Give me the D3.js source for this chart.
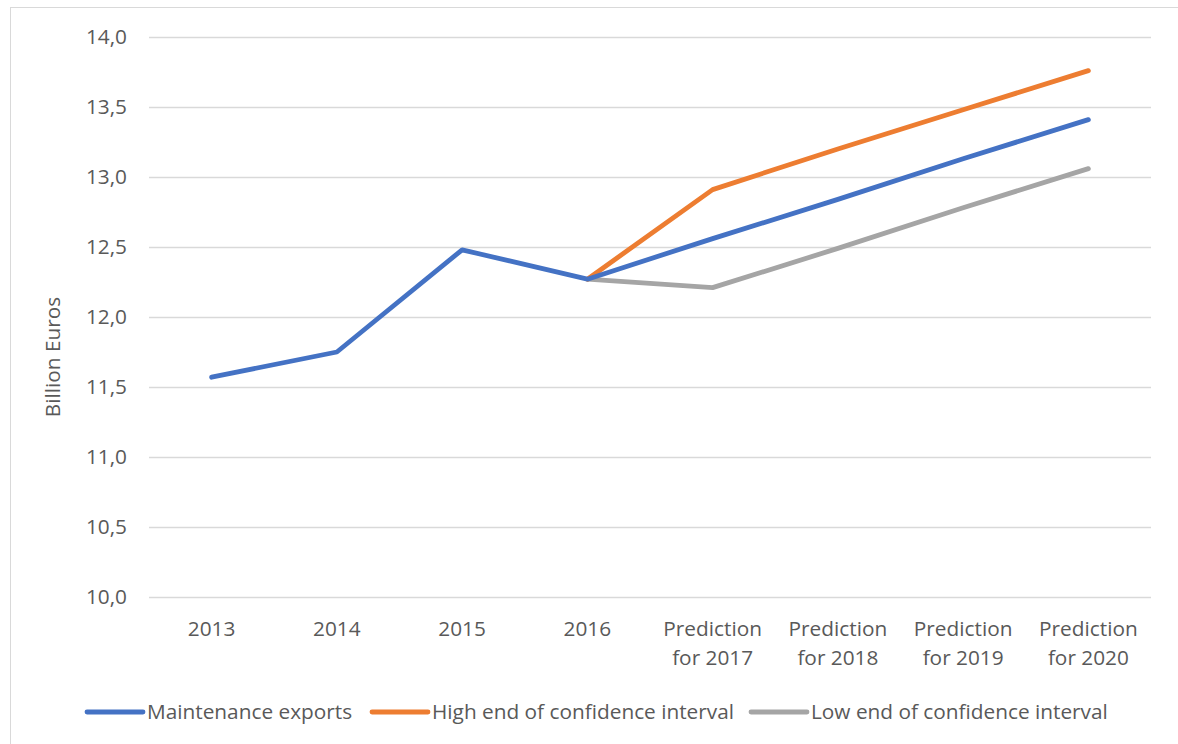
<!DOCTYPE html>
<html lang="en">
<head>
<meta charset="UTF-8">
<title>Maintenance exports</title>
<script src="https://cdn.jsdelivr.net/npm/d3@7"></script>
<style>
  body { margin: 0; background: #fff; }
  text { font-family: "Open Sans", Lato, sans-serif; fill: #595959; }
</style>
</head>
<body>
<script>
// categories and series (billion euros)
var categories = ["2013", "2014", "2015", "2016",
  "Prediction for 2017", "Prediction for 2018", "Prediction for 2019", "Prediction for 2020"];
var maintenance = [11.57, 11.75, 12.48, 12.27, 12.56, 12.84, 13.13, 13.41];
var highEnd = [null, null, null, 12.27, 12.91, 13.20, 13.48, 13.76];
var lowEnd = [null, null, null, 12.27, 12.21, 12.49, 12.78, 13.06];
var yTicks = [10, 10.5, 11, 11.5, 12, 12.5, 13, 13.5, 14];

var series = [
  {name: "Low end of confidence interval", values: lowEnd, color: "#A5A5A5"},
  {name: "High end of confidence interval", values: highEnd, color: "#ED7D31"},
  {name: "Maintenance exports", values: maintenance, color: "#4472C4"}
];
var legendOrder = [series[2], series[1], series[0]];

var width = 1178, height = 744;
var plotLeft = 149, plotRight = 1151, plotTop = 37, plotBottom = 597;
var fontSize = "20.8px";

var svg = d3.select("body").append("svg")
  .attr("width", width)
  .attr("height", height);

// chart border (top + left visible)
svg.append("rect")
  .attr("x", 10.5).attr("y", 7.5)
  .attr("width", width).attr("height", height)
  .attr("fill", "none")
  .attr("stroke", "#D9D9D9");

var x = d3.scaleBand().domain(categories).range([plotLeft, plotRight]);
var y = d3.scaleLinear().domain([10, 14]).range([plotBottom, plotTop]);

// gridlines
svg.append("g").selectAll("line")
  .data(yTicks)
  .join("line")
  .attr("x1", plotLeft).attr("x2", plotRight)
  .attr("y1", d => Math.round(y(d)) + 0.5)
  .attr("y2", d => Math.round(y(d)) + 0.5)
  .attr("stroke", "#D9D9D9")
  .attr("stroke-width", 1.3);

// y tick labels
svg.append("g").selectAll("text")
  .data(yTicks)
  .join("text")
  .attr("x", 127)
  .attr("y", d => y(d))
  .attr("dy", "0.35em")
  .attr("text-anchor", "end")
  .style("font-size", fontSize)
  .text(d => d3.format(".1f")(d).replace(".", ","));

// y axis title
svg.append("text")
  .attr("transform", "translate(60,357) rotate(-90)")
  .attr("text-anchor", "middle")
  .style("font-size", fontSize)
  .text("Billion Euros");

// x labels, wrapped on two lines for the predictions
var xl = svg.append("g").selectAll("text")
  .data(categories)
  .join("text")
  .attr("x", d => x(d) + x.bandwidth() / 2)
  .attr("y", 636)
  .attr("text-anchor", "middle")
  .style("font-size", fontSize);

xl.each(function(d) {
  var parts = d.startsWith("Prediction") ? ["Prediction", d.replace("Prediction ", "")] : [d];
  d3.select(this).selectAll("tspan")
    .data(parts)
    .join("tspan")
    .attr("x", x(d) + x.bandwidth() / 2)
    .attr("dy", (p, i) => i === 0 ? 0 : 29)
    .text(p => p);
});

// lines
var line = d3.line()
  .defined(d => d.v != null)
  .x(d => x(d.c) + x.bandwidth() / 2)
  .y(d => y(d.v));

svg.append("g").selectAll("path")
  .data(series)
  .join("path")
  .attr("d", s => line(s.values.map((v, i) => ({c: categories[i], v: v}))))
  .attr("fill", "none")
  .attr("stroke", s => s.color)
  .attr("stroke-width", 4.8)
  .attr("stroke-linecap", "round")
  .attr("stroke-linejoin", "round");

// legend
var legendX = [87, 372, 751];
var lg = svg.append("g").selectAll("g")
  .data(legendOrder)
  .join("g")
  .attr("transform", (d, i) => "translate(" + legendX[i] + ",712)");

lg.append("line")
  .attr("x1", 0).attr("x2", 56)
  .attr("stroke", d => d.color)
  .attr("stroke-width", 4.8)
  .attr("stroke-linecap", "round");

lg.append("text")
  .attr("x", 60)
  .attr("dy", "0.35em")
  .style("font-size", fontSize)
  .text(d => d.name);
</script>
</body>
</html>
